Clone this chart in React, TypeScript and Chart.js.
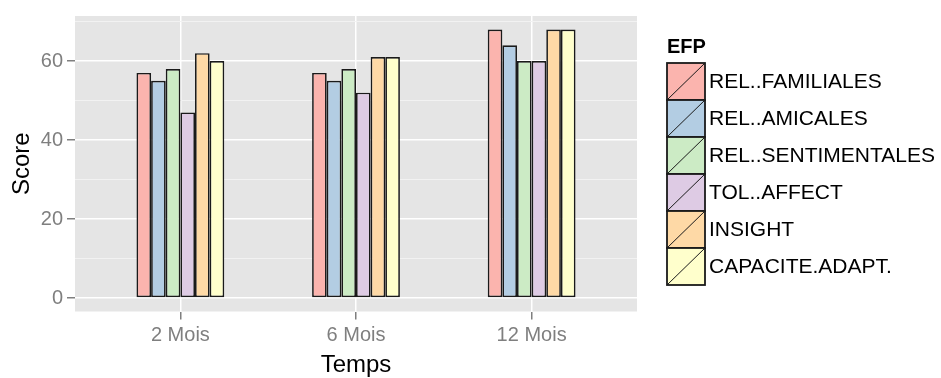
import React, { useEffect, useRef } from "react";
import { Chart, registerables } from "chart.js";

Chart.register(...registerables);

// ---- Data ----
const categories = ["2 Mois", "6 Mois", "12 Mois"];
const seriesNames = [
  "REL..FAMILIALES",
  "REL..AMICALES",
  "REL..SENTIMENTALES",
  "TOL..AFFECT",
  "INSIGHT",
  "CAPACITE.ADAPT.",
];
const relFamiliales = [57, 57, 68];
const relAmicales = [55, 55, 64];
const relSentimentales = [58, 58, 60];
const tolAffect = [47, 52, 60];
const insight = [62, 61, 68];
const capaciteAdapt = [60, 61, 68];
const seriesValues = [relFamiliales, relAmicales, relSentimentales, tolAffect, insight, capaciteAdapt];
const seriesColors = ["#FBB4AE", "#B3CDE3", "#CCEBC5", "#DECBE4", "#FED9A6", "#FFFFCC"];
const yMajorTicks = [0, 20, 40, 60];
const yMinorTicks = [10, 30, 50, 70];
const legendTitle = "EFP";
const xTitle = "Temps";
const yTitle = "Score";

const FONT = "'Liberation Sans', Arial, Helvetica, sans-serif";

const panelBg = {
  id: "panelBg",
  beforeDraw(chart: any) {
    const { ctx, chartArea: a } = chart;
    ctx.save();
    ctx.fillStyle = "#FFFFFF";
    ctx.fillRect(0, 0, chart.width, chart.height);
    ctx.fillStyle = "#E5E5E5";
    ctx.fillRect(a.left, a.top, a.right - a.left, a.bottom - a.top);
    ctx.restore();
  },
};

const ggLegend = {
  id: "ggLegend",
  afterDraw(chart: any) {
    const { ctx } = chart;
    const x = 667;
    const top = 63;
    const w = 38;
    const h = 37;
    ctx.save();
    ctx.fillStyle = "#000000";
    ctx.font = `bold 20px ${FONT}`;
    ctx.textBaseline = "middle";
    ctx.textAlign = "left";
    ctx.fillText(legendTitle, x, 47);
    chart.data.datasets.forEach((ds: any, i: number) => {
      const y = top + i * h;
      ctx.fillStyle = ds.backgroundColor;
      ctx.fillRect(x, y, w, h);
      ctx.strokeStyle = "#1A1A1A";
      ctx.lineWidth = 1.8;
      ctx.strokeRect(x, y, w, h);
      ctx.lineWidth = 1;
      ctx.beginPath();
      ctx.moveTo(x, y + h);
      ctx.lineTo(x + w, y);
      ctx.stroke();
      ctx.fillStyle = "#000000";
      ctx.font = `21px ${FONT}`;
      ctx.fillText(ds.label, x + w + 4, y + h / 2 + 1);
    });
    ctx.restore();
  },
};

export default function App() {
  const ref = useRef<HTMLCanvasElement>(null);

  useEffect(() => {
    if (!ref.current) return;
    Chart.defaults.font.family = FONT;
    const isMajor = (v: number) => yMajorTicks.includes(v);
    const chart = new Chart(ref.current, {
      type: "bar",
      data: {
        datasets: seriesNames.map((name, k) => ({
          label: name,
          data: seriesValues[k].map((v, i) => ({ x: i, y: v })),
          backgroundColor: seriesColors[k],
          borderColor: "#1A1A1A",
          borderWidth: 1.7,
          borderSkipped: false,
          categoryPercentage: 0.5,
          barPercentage: 1,
        })),
      },
      options: {
        animation: false,
        responsive: false,
        layout: { padding: { top: 10, right: 304, left: 0, bottom: 0 } },
        plugins: { legend: { display: false }, tooltip: { enabled: false } },
        scales: {
          x: {
            type: "linear",
            min: -0.6,
            max: 2.6,
            offset: false,
            afterBuildTicks: (s: any) => {
              s.ticks = categories.map((_, i) => ({ value: i }));
            },
            afterFit: (s: any) => {
              s.height = 66.5;
            },
            border: { display: false },
            grid: {
              offset: false,
              color: "#FFFFFF",
              lineWidth: 1.5,
              tickColor: "#7F7F7F",
              tickLength: 8,
              tickWidth: 1.5,
            },
            ticks: {
              autoSkip: false,
              maxRotation: 0,
              padding: 4,
              color: "#7F7F7F",
              font: { size: 20 },
              callback: (v: any) => categories[v] ?? "",
            },
            title: {
              display: true,
              text: xTitle,
              color: "#000000",
              font: { size: 24, lineHeight: 1 },
              padding: { top: 0, bottom: 1 },
            },
          },
          y: {
            min: -3.4,
            max: 71.4,
            afterBuildTicks: (s: any) => {
              s.ticks = [...yMajorTicks, ...yMinorTicks]
                .sort((a, b) => a - b)
                .map((v) => ({ value: v }));
            },
            afterFit: (s: any) => {
              s.width = 75;
            },
            border: { display: false },
            grid: {
              color: (c: any) => (isMajor(c.tick?.value) ? "#FFFFFF" : "#F2F2F2"),
              lineWidth: (c: any) => (isMajor(c.tick?.value) ? 1.5 : 1),
              tickColor: (c: any) => (isMajor(c.tick?.value) ? "#7F7F7F" : "rgba(0,0,0,0)"),
              tickLength: 8,
              tickWidth: 1.5,
            },
            ticks: {
              autoSkip: false,
              padding: 4,
              color: "#7F7F7F",
              font: { size: 20 },
              callback: (v: any) => (isMajor(v) ? String(v) : ""),
            },
            title: {
              display: true,
              text: yTitle,
              color: "#000000",
              font: { size: 24, lineHeight: 1.2 },
              padding: { top: 8, bottom: 0 },
            },
          },
        },
      } as any,
      plugins: [panelBg, ggLegend],
    });
    return () => chart.destroy();
  }, []);

  return (
    <div style={{ position: "absolute", left: 0, top: 0, width: 941, height: 378 }}>
      <canvas ref={ref} width={941} height={378} style={{ display: "block" }} />
    </div>
  );
}
